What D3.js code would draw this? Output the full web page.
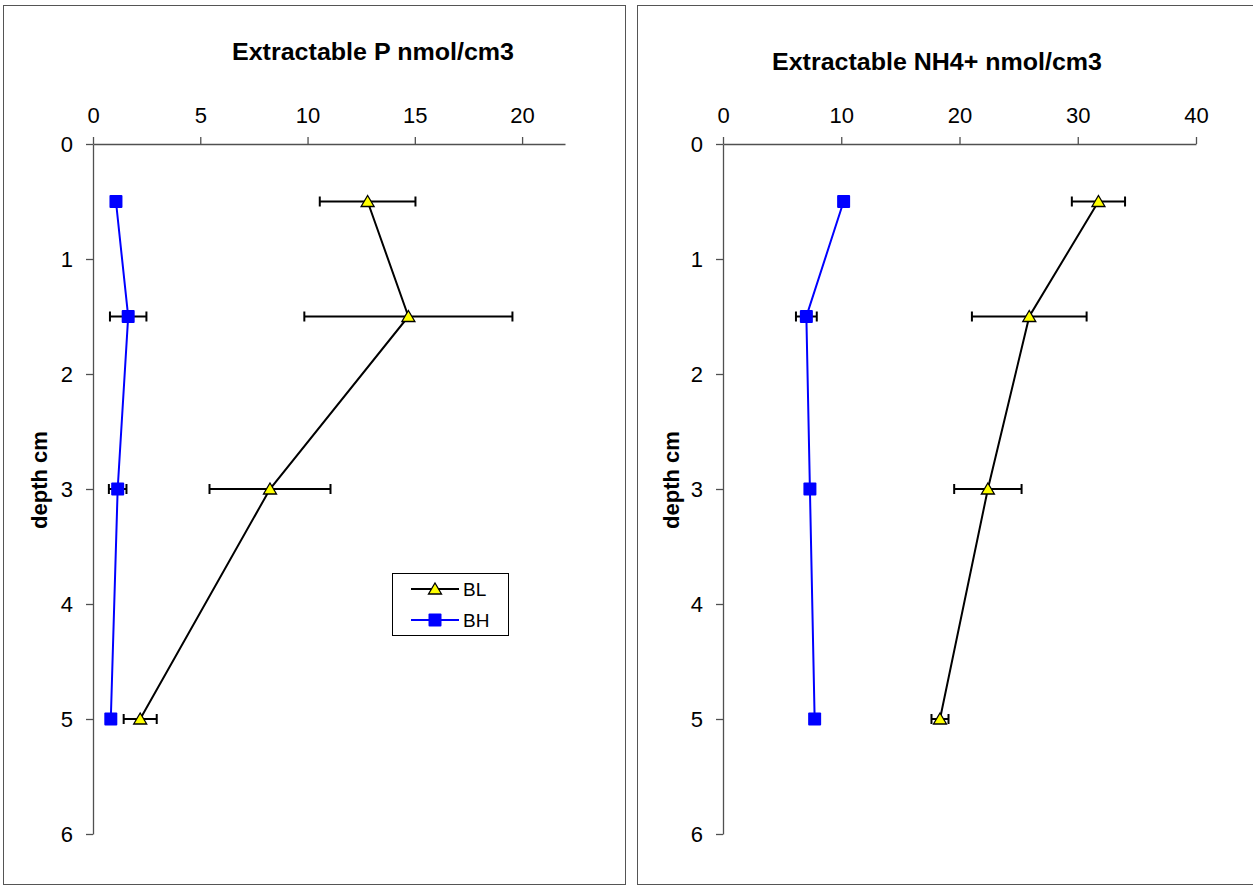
<!DOCTYPE html>
<html>
<head>
<meta charset="utf-8">
<script src="https://cdn.jsdelivr.net/npm/d3@7"></script>
<style>
	body { margin: 0; background: #fff; }
	text { font-family: "Liberation Sans", Arial, sans-serif; }
</style>
</head>
<body>
<svg id="chart" width="1253" height="886"></svg>
<script>
// depths (cm) shared by both panels
var depths = [0.5, 1.5, 3, 5];
var depthTicks = [0, 1, 2, 3, 4, 5, 6];

// Extractable P nmol/cm3
var pTicks = [0, 5, 10, 15, 20];
var pBL = [12.8, 14.7, 8.25, 2.2];
var pBLerr = [2.23, 4.85, 2.82, 0.77];
var pBH = [1.07, 1.64, 1.15, 0.83];
var pBHerr = [0, 0.85, 0.41, 0];

// Extractable NH4+ nmol/cm3
var nTicks = [0, 10, 20, 30, 40];
var nBL = [31.75, 25.9, 22.4, 18.35];
var nBLerr = [2.25, 4.85, 2.85, 0.72];
var nBH = [10.2, 7.05, 7.35, 7.75];
var nBHerr = [0, 0.88, 0, 0];

var svg = d3.select("#chart");

function drawPanel(opt) {
	var g = svg.append("g");

	// panel frame
	g.append("rect")
		.attr("x", opt.frame[0] + 0.5)
		.attr("y", opt.frame[1] + 0.5)
		.attr("width", opt.frame[2])
		.attr("height", opt.frame[3])
		.style("fill", "none")
		.style("stroke", "#555")
		.style("stroke-width", 1);

	var x = d3.scaleLinear().domain([0, opt.xMax]).range([opt.x0, opt.x1]);
	var y = d3.scaleLinear().domain([0, 6]).range([144, 834]);

	// top x axis
	var xAxis = g.append("g")
		.attr("transform", "translate(0,144)")
		.call(d3.axisTop(x).tickValues(opt.ticks).tickFormat(d3.format("d"))
			.tickSize(7).tickSizeOuter(0).tickPadding(14));
	// left y axis
	var yAxis = g.append("g")
		.attr("transform", "translate(" + opt.x0 + ",0)")
		.call(d3.axisLeft(y).tickValues(depthTicks).tickFormat(d3.format("d"))
			.tickSize(7).tickSizeOuter(0).tickPadding(13));

	[xAxis, yAxis].forEach(function(a) {
		a.select(".domain").style("stroke", "#505050").style("stroke-width", 1.3);
		a.selectAll(".tick line").style("stroke", "#505050").style("stroke-width", 1.3);
		a.selectAll(".tick text")
			.style("font-size", "22px")
			.style("font-family", "'Liberation Sans', Arial, sans-serif")
			.style("fill", "#000");
	});

	// titles
	g.append("text")
		.attr("x", opt.titleX)
		.attr("y", opt.titleY)
		.attr("text-anchor", "middle")
		.attr("textLength", opt.titleLen)
		.attr("lengthAdjust", "spacingAndGlyphs")
		.style("font-size", "23px")
		.style("font-weight", "bold")
		.text(opt.title);

	g.append("text")
		.attr("transform", "translate(" + opt.yLabelX + ",480) rotate(-90)")
		.attr("text-anchor", "middle")
		.style("font-size", "22px")
		.style("font-weight", "bold")
		.text("depth cm");

	var series = [
		{ name: "BL", vals: opt.bl, err: opt.blErr, color: "#000", marker: "triangle" },
		{ name: "BH", vals: opt.bh, err: opt.bhErr, color: "#0000FF", marker: "square" }
	];

	var line = d3.line()
		.x(function(d) { return x(d.v); })
		.y(function(d) { return y(d.d); });

	series.forEach(function(s) {
		var pts = depths.map(function(d, i) { return { d: d, v: s.vals[i], e: s.err[i] }; });

		g.append("path")
			.attr("d", line(pts))
			.style("fill", "none")
			.style("stroke", s.color)
			.style("stroke-width", 2);

		// error bars (always black)
		var eb = g.append("g").selectAll("g")
			.data(pts.filter(function(p) { return p.e > 0; }))
			.enter().append("g");
		eb.append("line")
			.attr("x1", function(p) { return x(p.v - p.e); })
			.attr("x2", function(p) { return x(p.v + p.e); })
			.attr("y1", function(p) { return y(p.d); })
			.attr("y2", function(p) { return y(p.d); })
			.style("stroke", "#000").style("stroke-width", 2);
		[-1, 1].forEach(function(sign) {
			eb.append("line")
				.attr("x1", function(p) { return x(p.v + sign * p.e); })
				.attr("x2", function(p) { return x(p.v + sign * p.e); })
				.attr("y1", function(p) { return y(p.d) - 5; })
				.attr("y2", function(p) { return y(p.d) + 5; })
				.style("stroke", "#000").style("stroke-width", 2);
		});

		drawMarkers(g, pts.map(function(p) { return [x(p.v), y(p.d)]; }), s.marker);
	});

	if (opt.legend) {
		var lg = g.append("g");
		lg.append("rect")
			.attr("x", 392.5).attr("y", 573.5)
			.attr("width", 116).attr("height", 62)
			.style("fill", "#fff")
			.style("stroke", "#000")
			.style("stroke-width", 1);
		series.forEach(function(s, i) {
			var ly = 589 + i * 31;
			lg.append("line")
				.attr("x1", 411).attr("x2", 459)
				.attr("y1", ly).attr("y2", ly)
				.style("stroke", s.color).style("stroke-width", 2);
			drawMarkers(lg, [[435, ly]], s.marker);
			lg.append("text")
				.attr("x", 463).attr("y", ly + 6.5)
				.style("font-size", "19px")
				.text(s.name);
		});
	}
}

function drawMarkers(g, pts, type) {
	if (type === "square") {
		g.selectAll(null).data(pts).enter().append("rect")
			.attr("x", function(p) { return p[0] - 6.5; })
			.attr("y", function(p) { return p[1] - 6.5; })
			.attr("width", 13).attr("height", 13)
			.attr("rx", 1)
			.style("fill", "#0000FF");
	} else {
		g.selectAll(null).data(pts).enter().append("path")
			.attr("d", function(p) {
				return "M" + p[0] + "," + (p[1] - 6) + "L" + (p[0] + 6.5) + "," + (p[1] + 5) +
					"L" + (p[0] - 6.5) + "," + (p[1] + 5) + "Z";
			})
			.style("fill", "#FFFF00")
			.style("stroke", "#000")
			.style("stroke-width", 1.3);
	}
}

drawPanel({
	frame: [3, 5, 622, 879],
	x0: 93, x1: 565, xMax: 22, ticks: pTicks,
	title: "Extractable P nmol/cm3", titleX: 373, titleY: 60, titleLen: 282,
	yLabelX: 47,
	bl: pBL, blErr: pBLerr, bh: pBH, bhErr: pBHerr,
	legend: true
});

drawPanel({
	frame: [637, 5, 620, 879],
	x0: 723, x1: 1196, xMax: 40, ticks: nTicks,
	title: "Extractable NH4+ nmol/cm3", titleX: 937, titleY: 70, titleLen: 330,
	yLabelX: 679,
	bl: nBL, blErr: nBLerr, bh: nBH, bhErr: nBHerr,
	legend: false
});
</script>
</body>
</html>
